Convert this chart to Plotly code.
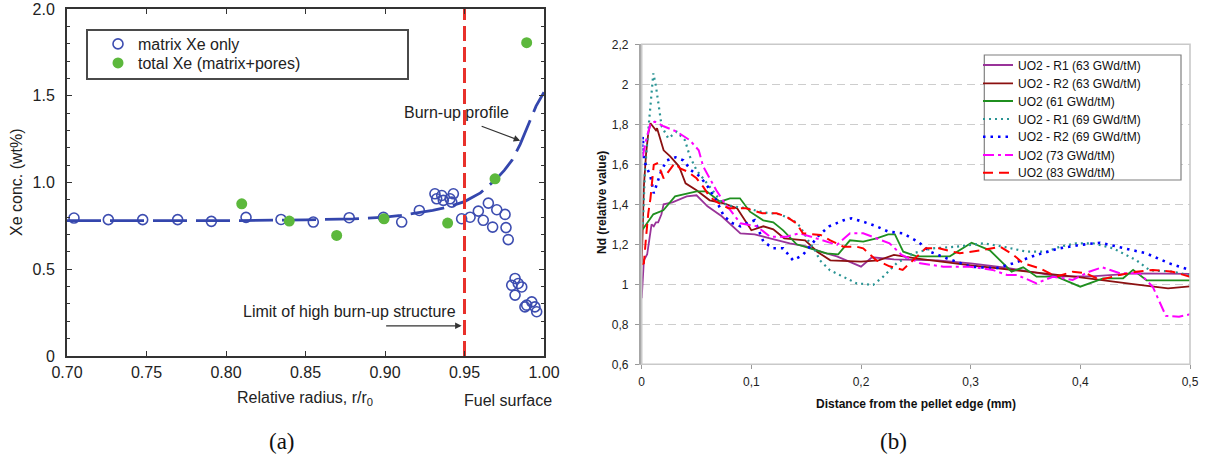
import plotly.graph_objects as go

W, H = 1210, 465
FONT = "Liberation Sans, Arial, sans-serif"
SERIF = "Liberation Serif, DejaVu Serif, serif"

# ---------------- (a) Xe concentration ----------------
R_MATRIX = [0.7044, 0.726, 0.7476, 0.7696, 0.7908, 0.8126, 0.8346, 0.8549, 0.8775, 0.899,
            0.9105, 0.9216, 0.9314, 0.9325, 0.9357, 0.9367, 0.9409, 0.943, 0.942, 0.9482,
            0.9535, 0.9587, 0.965, 0.9703, 0.9755, 0.9618, 0.9677, 0.9761, 0.9775, 0.9818,
            0.9838, 0.9797, 0.986, 0.9818, 0.9891, 0.9923, 0.9943, 0.9954, 0.988]
XE_MATRIX = [0.795, 0.786, 0.786, 0.786, 0.776, 0.799, 0.787, 0.772, 0.797, 0.799,
             0.772, 0.839, 0.935, 0.906, 0.925, 0.897, 0.906, 0.935, 0.887, 0.791,
             0.80, 0.835, 0.881, 0.843, 0.816, 0.782, 0.743, 0.740, 0.671, 0.447,
             0.418, 0.408, 0.398, 0.351, 0.293, 0.312, 0.283, 0.255, 0.283]
R_TOTAL = [0.8099, 0.8398, 0.8696, 0.8994, 0.9394, 0.9692, 0.9891]
XE_TOTAL = [0.877, 0.778, 0.695, 0.791, 0.766, 1.021, 1.806]
R_BURNUP = [0.70, 0.75, 0.80, 0.85, 0.88, 0.90, 0.91, 0.92, 0.93, 0.94, 0.95, 0.96, 0.97,
            0.975, 0.98, 0.985, 0.99, 0.995, 1.00]
XE_BURNUP = [0.78, 0.78, 0.78, 0.785, 0.79, 0.80, 0.81, 0.825, 0.84, 0.86, 0.89, 0.94, 1.02,
             1.07, 1.13, 1.22, 1.33, 1.44, 1.52]
LIMIT_R = 0.95
A_XTICKS = [0.70, 0.75, 0.80, 0.85, 0.90, 0.95, 1.00]
A_XLABELS = ["0.70", "0.75", "0.80", "0.85", "0.90", "0.95", "1.00"]
A_YTICKS = [0, 0.5, 1.0, 1.5, 2.0]
A_YLABELS = ["0", "0.5", "1.0", "1.5", "2.0"]

# ---------------- (b) Nd relative value ----------------
X_R1_63 = [0, 0.002, 0.005, 0.008, 0.009, 0.011, 0.013, 0.015, 0.018, 0.02, 0.028, 0.041, 0.05,
           0.06, 0.073, 0.09, 0.103, 0.117, 0.135, 0.15, 0.165, 0.178, 0.19, 0.2, 0.21, 0.23,
           0.27, 0.3, 0.33, 0.38, 0.41, 0.45, 0.5]
Y_R1_63 = [0.93, 1.12, 1.15, 1.27, 1.30, 1.29, 1.31, 1.31, 1.35, 1.40, 1.41, 1.44, 1.445,
           1.39, 1.34, 1.255, 1.25, 1.23, 1.205, 1.19, 1.16, 1.14, 1.11, 1.088, 1.135, 1.125,
           1.12, 1.105, 1.085, 1.04, 1.04, 1.055, 1.052]

X_R2_63 = [0, 0.001, 0.002, 0.004, 0.006, 0.008, 0.011, 0.013, 0.014, 0.017, 0.02, 0.026, 0.034,
           0.04, 0.05, 0.062, 0.075, 0.087, 0.1, 0.111, 0.12, 0.13, 0.149, 0.155, 0.16, 0.172,
           0.2, 0.216, 0.23, 0.25, 0.3, 0.35, 0.4, 0.45, 0.48, 0.5]
Y_R2_63 = [1.10, 1.37, 1.49, 1.655, 1.755, 1.805, 1.78, 1.77, 1.78, 1.72, 1.67, 1.64, 1.59,
           1.505, 1.47, 1.42, 1.405, 1.38, 1.27, 1.29, 1.275, 1.23, 1.22, 1.19, 1.163, 1.12,
           1.113, 1.12, 1.147, 1.13, 1.095, 1.065, 1.035, 1.00, 0.98, 0.99]

X_61 = [0.001, 0.0106, 0.0197, 0.0304, 0.0501, 0.0593, 0.0714, 0.0805, 0.0896, 0.0987, 0.1108,
        0.12, 0.129, 0.1413, 0.1595, 0.1686, 0.1792, 0.1899, 0.202, 0.2142, 0.2248, 0.2309,
        0.2385, 0.2507, 0.281, 0.3008, 0.3175, 0.3373, 0.3479, 0.3601, 0.3783, 0.3999, 0.4208,
        0.439, 0.4481, 0.4604, 0.5]
Y_61 = [1.275, 1.35, 1.37, 1.44, 1.465, 1.465, 1.413, 1.43, 1.43, 1.363, 1.32,
        1.31, 1.27, 1.20, 1.17, 1.155, 1.15, 1.22, 1.213, 1.23, 1.25, 1.25,
        1.163, 1.14, 1.14, 1.208, 1.17, 1.063, 1.085, 1.038, 1.038, 0.988, 1.03,
        1.03, 1.072, 1.02, 1.02]

X_R1_69 = [0.001, 0.003, 0.006, 0.009, 0.0106, 0.013, 0.0151, 0.0182, 0.0242, 0.0319, 0.0395,
           0.044, 0.0501, 0.0593, 0.0668, 0.0729, 0.0835, 0.0957, 0.1108, 0.1261, 0.1382,
           0.1443, 0.1534, 0.158, 0.1625, 0.1717, 0.1838, 0.196, 0.2111, 0.2202, 0.2325,
           0.2476, 0.2658, 0.2871, 0.3114, 0.3296, 0.351, 0.3692, 0.3813, 0.3965, 0.4117,
           0.4299, 0.4512, 0.4633, 0.4846, 0.5]
Y_R1_69 = [1.30, 1.57, 1.77, 1.94, 2.055, 1.99, 1.905, 1.79, 1.73, 1.763, 1.72,
           1.638, 1.57, 1.505, 1.455, 1.405, 1.39, 1.38, 1.36, 1.35, 1.32,
           1.29, 1.205, 1.17, 1.12, 1.07, 1.038, 1.005, 0.997, 1.038, 1.105,
           1.155, 1.18, 1.188, 1.205, 1.188, 1.163, 1.163, 1.188, 1.205, 1.205,
           1.18, 1.12, 1.07, 1.063, 1.045]

X_R2_69 = [0.0, 0.001, 0.002, 0.008, 0.011, 0.018, 0.023, 0.031, 0.038, 0.045, 0.053, 0.06,
           0.068, 0.075, 0.083, 0.09, 0.096, 0.103, 0.111, 0.12, 0.129, 0.138, 0.147, 0.153,
           0.162, 0.171, 0.184, 0.191, 0.202, 0.214, 0.225, 0.238, 0.252, 0.263, 0.278, 0.3,
           0.323, 0.339, 0.36, 0.381, 0.4, 0.418, 0.439, 0.46, 0.481, 0.5]
Y_R2_69 = [1.65, 1.74, 1.62, 1.54, 1.455, 1.57, 1.62, 1.635, 1.62, 1.57, 1.54, 1.49,
           1.42, 1.34, 1.305, 1.29, 1.305, 1.32, 1.213, 1.18, 1.18, 1.12, 1.147, 1.188,
           1.247, 1.29, 1.32, 1.33, 1.313, 1.29, 1.263, 1.255, 1.213, 1.163, 1.13, 1.088,
           1.08, 1.105, 1.147, 1.18, 1.197, 1.208, 1.18, 1.155, 1.105, 1.072]

X_73 = [0.001, 0.004, 0.008, 0.012, 0.02, 0.032, 0.044, 0.052, 0.056, 0.062, 0.068, 0.074,
        0.082, 0.09, 0.105, 0.117, 0.132, 0.144, 0.159, 0.168, 0.178, 0.19, 0.202, 0.214,
        0.226, 0.237, 0.254, 0.275, 0.299, 0.32, 0.333, 0.342, 0.36, 0.375, 0.393, 0.408,
        0.42, 0.436, 0.454, 0.466, 0.478, 0.49, 0.5]
Y_73 = [1.64, 1.72, 1.805, 1.813, 1.79, 1.763, 1.72, 1.67, 1.59, 1.53, 1.47, 1.42,
        1.36, 1.305, 1.29, 1.238, 1.238, 1.255, 1.23, 1.213, 1.197, 1.255, 1.255, 1.23,
        1.205, 1.147, 1.105, 1.088, 1.088, 1.072, 1.047, 1.047, 1.005, 1.038, 1.022, 1.063,
        1.085, 1.055, 1.055, 0.988, 0.842, 0.838, 0.85]

X_83 = [0.0, 0.002, 0.004, 0.006, 0.008, 0.011, 0.014, 0.017, 0.02, 0.026, 0.03, 0.035, 0.042,
        0.05, 0.056, 0.062, 0.068, 0.079, 0.095, 0.11, 0.123, 0.132, 0.141, 0.147, 0.163,
        0.172, 0.184, 0.196, 0.202, 0.214, 0.226, 0.238, 0.247, 0.259, 0.271, 0.29, 0.31,
        0.327, 0.339, 0.348, 0.363, 0.378, 0.393, 0.405, 0.418, 0.436, 0.451, 0.466, 0.484, 0.5]
Y_83 = [1.10, 1.105, 1.238, 1.355, 1.43, 1.597, 1.605, 1.572, 1.53, 1.572, 1.605, 1.58, 1.563,
        1.53, 1.488, 1.438, 1.413, 1.38, 1.38, 1.355, 1.355, 1.338, 1.305, 1.255, 1.247,
        1.22, 1.188, 1.188, 1.18, 1.12, 1.09, 1.072, 1.12, 1.18, 1.18, 1.155, 1.17,
        1.188, 1.147, 1.105, 1.08, 1.038, 1.063, 1.055, 1.022, 1.047, 1.063, 1.072, 1.063, 1.038]

B_XTICKS = [0, 0.1, 0.2, 0.3, 0.4, 0.5]
B_XLABELS = ["0", "0,1", "0,2", "0,3", "0,4", "0,5"]
B_YTICKS = [0.6, 0.8, 1.0, 1.2, 1.4, 1.6, 1.8, 2.0, 2.2]
B_YLABELS = ["0,6", "0,8", "1", "1,2", "1,4", "1,6", "1,8", "2", "2,2"]

B_SERIES = [
    ("UO2 - R1 (63 GWd/tM)", X_R1_63, Y_R1_63, "#993399", "solid", 1.8),
    ("UO2 - R2 (63 GWd/tM)", X_R2_63, Y_R2_63, "#8b1010", "solid", 1.8),
    ("UO2 (61 GWd/tM)", X_61, Y_61, "#1f8f1f", "solid", 1.8),
    ("UO2 - R1 (69 GWd/tM)", X_R1_69, Y_R1_69, "#2a9494", "2px,4px", 2.2),
    ("UO2 - R2 (69 GWd/tM)", X_R2_69, Y_R2_69, "#0000ff", "2.5px,5px", 2.6),
    ("UO2 (73 GWd/tM)", X_73, Y_73, "#ff00ff", "11px,4px,3px,4px", 2.0),
    ("UO2 (83 GWd/tM)", X_83, Y_83, "#ff0000", "10px,6px", 2.0),
]

# ---------------- layout geometry (pixels) ----------------
A_L, A_R, A_T, A_B = 67, 544, 9, 356
B_L, B_R, B_T, B_B = 641.7, 1190, 44.3, 364.3
B_YMIN, B_YMAX = 0.6, 2.2
B_XMIN, B_XMAX = 0.0, 0.5


def px_x(p):
    return p / W


def px_y(p):
    return (H - p) / H


def b_data_x(p):
    return B_XMIN + (p - B_L) / (B_R - B_L) * (B_XMAX - B_XMIN)


def b_data_y(p):
    return B_YMIN + (B_B - p) / (B_B - B_T) * (B_YMAX - B_YMIN)


fig = go.Figure()

fig.add_trace(go.Scatter(
    x=R_MATRIX, y=XE_MATRIX, mode="markers", name="matrix Xe only", legend="legend",
    marker=dict(symbol="circle-open", size=10, color="#3d4db0", line=dict(width=1.6, color="#3d4db0")),
    xaxis="x", yaxis="y"))
fig.add_trace(go.Scatter(
    x=R_BURNUP, y=XE_BURNUP, mode="lines", showlegend=False,
    line=dict(color="#3446ad", width=2.8, dash="34px,9px"), xaxis="x", yaxis="y"))
fig.add_trace(go.Scatter(
    x=R_TOTAL, y=XE_TOTAL, mode="markers", name="total Xe (matrix+pores)", legend="legend2",
    marker=dict(symbol="circle", size=11, color="#5cb83c"), xaxis="x", yaxis="y"))
fig.add_trace(go.Scatter(
    x=[LIMIT_R, LIMIT_R], y=[A_YTICKS[0], A_YTICKS[-1]], mode="lines", showlegend=False,
    line=dict(color="#e8312b", width=3, dash="15px,6px"), xaxis="x", yaxis="y"))

# legend entry centres (px) for panel (b)
B_LEG_Y = [65, 83.3, 101, 119, 136.7, 155, 172.7]
for i, (name, xs, ys, color, dash, width) in enumerate(B_SERIES):
    fig.add_trace(go.Scatter(
        x=xs, y=ys, mode="lines", name=name, legend=f"legend{i + 3}",
        line=dict(color=color, width=width, dash=dash), xaxis="x2", yaxis="y2"))

legends = {}
legends["legend"] = dict(x=px_x(98), y=px_y(44), xanchor="left", yanchor="middle",
                         font=dict(family=FONT, size=16, color="#222"),
                         bgcolor="rgba(0,0,0,0)", borderwidth=0)
legends["legend2"] = dict(x=px_x(98), y=px_y(63), xanchor="left", yanchor="middle",
                          font=dict(family=FONT, size=16, color="#222"),
                          bgcolor="rgba(0,0,0,0)", borderwidth=0)
for i, yy in enumerate(B_LEG_Y):
    legends[f"legend{i + 3}"] = dict(x=px_x(978), y=px_y(yy), xanchor="left", yanchor="middle",
                                     font=dict(family=FONT, size=12, color="#111"),
                                     bgcolor="rgba(0,0,0,0)", borderwidth=0)

CM = dict(xanchor="center", yanchor="middle")
annotations = [
    dict(text="Burn-up profile", x=0.945, y=1.404, xref="x", yref="y", showarrow=False,
         font=dict(family=FONT, size=16, color="#222"), **CM),
    dict(text="", x=0.985, y=1.241, xref="x", yref="y", ax=-40, ay=-15, showarrow=True,
         arrowhead=2, arrowsize=1, arrowwidth=1.3, arrowcolor="#333"),
    dict(text="Limit of high burn-up structure", x=0.9459, y=0.259, xref="x", yref="y",
         xanchor="right", yanchor="middle", showarrow=False,
         font=dict(family=FONT, size=16, color="#222")),
    dict(text="", x=0.9482, y=0.174, xref="x", yref="y", ax=-77, ay=0, showarrow=True,
         arrowhead=2, arrowsize=1, arrowwidth=1.3, arrowcolor="#333"),
    dict(text="Relative radius, r/r<sub>0</sub>", x=px_x(305), y=px_y(398), xref="paper", yref="paper",
         showarrow=False, font=dict(family=FONT, size=16, color="#222"), **CM),
    dict(text="Fuel surface", x=px_x(508), y=px_y(400), xref="paper", yref="paper",
         showarrow=False, font=dict(family=FONT, size=16, color="#222"), **CM),
    dict(text="Xe conc. (wt%)", x=px_x(17), y=px_y(182), xref="paper", yref="paper", textangle=-90,
         showarrow=False, font=dict(family=FONT, size=16, color="#222"), **CM),
    dict(text="(a)", x=px_x(282), y=px_y(441), xref="paper", yref="paper",
         showarrow=False, font=dict(family=SERIF, size=23, color="#111"), **CM),
    dict(text="(b)", x=px_x(893), y=px_y(441), xref="paper", yref="paper",
         showarrow=False, font=dict(family=SERIF, size=23, color="#111"), **CM),
    dict(text="<b>Nd (relative value)</b>", x=px_x(602), y=px_y(203), xref="paper", yref="paper",
         textangle=-90, showarrow=False, font=dict(family=FONT, size=12, color="#111"), **CM),
    dict(text="<b>Distance from the pellet edge (mm)</b>", x=px_x(916), y=px_y(404), xref="paper",
         yref="paper", showarrow=False, font=dict(family=FONT, size=12, color="#111"), **CM),
]

shapes = [
    # legend frame of panel (a)
    dict(type="rect", xref="x domain", yref="y domain",
         x0=(87 - A_L) / (A_R - A_L), x1=(408 - A_L) / (A_R - A_L),
         y0=(A_B - 79) / (A_B - A_T), y1=(A_B - 30) / (A_B - A_T),
         line=dict(color="#4a4a4a", width=2), layer="above"),
    # plot-area frame of panel (b)
    dict(type="rect", xref="x2 domain", yref="y2 domain", x0=0, x1=1, y0=0, y1=1,
         line=dict(color="#c9c9c9", width=1.6), layer="above"),
    # legend box of panel (b)
    dict(type="rect", xref="x2", yref="y2",
         x0=b_data_x(984.3), x1=b_data_x(1181),
         y0=b_data_y(180), y1=b_data_y(55),
         line=dict(color="#7f7f7f", width=1.2), fillcolor="white", layer="between"),
]

fig.update_layout(
    width=W, height=H, margin=dict(l=0, r=0, t=0, b=0, autoexpand=False),
    paper_bgcolor="white", plot_bgcolor="white",
    font=dict(family=FONT, color="#222"),
    showlegend=True,
    xaxis=dict(domain=[px_x(A_L), px_x(A_R)], range=[0.7, 1.0], anchor="y", automargin=False,
               tickmode="array", tickvals=A_XTICKS, ticktext=A_XLABELS,
               ticks="inside", ticklen=5, tickwidth=1.3, tickcolor="#333",
               showline=True, linecolor="#333", linewidth=2, mirror="ticks",
               showgrid=False, zeroline=False, ticklabelstandoff=1,
               tickfont=dict(family=FONT, size=16, color="#222")),
    yaxis=dict(domain=[px_y(A_B), px_y(A_T)], range=[0, 2.0], anchor="x", automargin=False,
               tickmode="array", tickvals=A_YTICKS, ticktext=A_YLABELS,
               ticks="inside", ticklen=5, tickwidth=1.3, tickcolor="#333",
               minor=dict(dtick=0.1, ticks="inside", ticklen=3, tickcolor="#333", showgrid=False),
               showline=True, linecolor="#333", linewidth=2, mirror="ticks",
               showgrid=False, zeroline=False, ticklabelstandoff=7,
               tickfont=dict(family=FONT, size=16, color="#222")),
    xaxis2=dict(domain=[px_x(B_L), px_x(B_R)], range=[B_XMIN, B_XMAX], anchor="y2", automargin=False,
                tickmode="array", tickvals=B_XTICKS, ticktext=B_XLABELS,
                ticks="outside", ticklen=4, tickcolor="#999",
                showline=True, linecolor="#b8b8b8", linewidth=1.2,
                showgrid=False, zeroline=False, ticklabelstandoff=2,
                tickfont=dict(family=FONT, size=12, color="#222")),
    yaxis2=dict(domain=[px_y(B_B), px_y(B_T)], range=[B_YMIN, B_YMAX], anchor="x2", automargin=False,
                tickmode="array", tickvals=B_YTICKS, ticktext=B_YLABELS,
                ticks="outside", ticklen=4, tickcolor="#999",
                showline=True, linecolor="#a6a6a6", linewidth=2.5,
                showgrid=True, gridcolor="#cdcdcd", gridwidth=1.4, griddash="8px,5px",
                zeroline=False, ticklabelstandoff=4,
                tickfont=dict(family=FONT, size=12, color="#222")),
    annotations=annotations,
    shapes=shapes,
    **legends,
)

fig.write_html("out.html")
